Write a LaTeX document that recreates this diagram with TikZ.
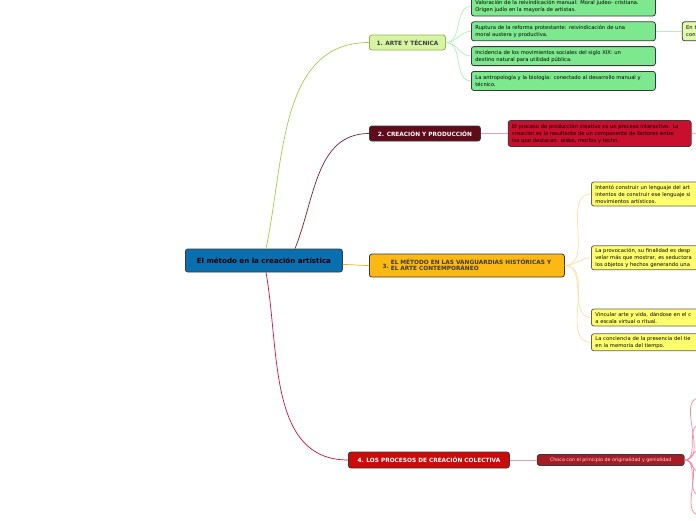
\documentclass[tikz,border=0pt]{standalone}
\usepackage{fontspec}
\setmainfont{DejaVu Sans}
\usetikzlibrary{positioning}
\definecolor{Ink}{HTML}{3A3A3A}
\definecolor{RootBlue}{HTML}{0A6FAE}
\definecolor{ArtFill}{HTML}{D6F5A4}
\definecolor{ArtLine}{HTML}{A9C94C}
\definecolor{LeafGreen}{HTML}{7DE88E}
\definecolor{LeafGreenLine}{HTML}{B6EEC2}
\definecolor{PaleLime}{HTML}{E2F9AE}
\definecolor{Maroon}{HTML}{5E0B1B}
\definecolor{Crimson}{HTML}{C8102E}
\definecolor{PinkLine}{HTML}{D9A2AC}
\definecolor{Amber}{HTML}{FDB913}
\definecolor{AmberLine}{HTML}{F5B21A}
\definecolor{LeafYellow}{HTML}{FFFF6E}
\definecolor{YellowLine}{HTML}{FCE0A2}
\definecolor{Red}{HTML}{CC0A0A}
\definecolor{RedLine}{HTML}{C8143C}
\definecolor{DarkRed}{HTML}{A51C24}
\definecolor{FanLine}{HTML}{F08CA0}
\tikzset{
  base/.style={rounded corners=2.5pt,line width=0.8pt,draw=Ink,inner xsep=4pt,
    inner ysep=0pt,align=left,anchor=west},
  rootbox/.style={base,fill=RootBlue,minimum width=157pt,minimum height=23pt,
    align=center,font=\fontsize{7.1}{8}\selectfont\bfseries},
  topic/.style={base,minimum height=15pt,align=center,
    font=\fontsize{5.8}{7}\selectfont\bfseries},
  leaf/.style={base,minimum height=19pt,text=black,font=\fontsize{5.2}{7}\selectfont},
  leafgreen/.style={leaf,fill=LeafGreen,text width=176pt},
  leafyellow/.style={leaf,fill=LeafYellow,text width=192pt,draw=Ink!80},
  edge/.style={line width=0.7pt}
}
\begin{document}
\begin{tikzpicture}[x=1pt,y=-1pt]
  \useasboundingbox (0,0) rectangle (696,520);
  \clip (0,0) rectangle (696,520);
  \fill[white] (0,0) rectangle (696,520);

  % centre
  \node[rootbox] (root) at (185,260.5) {El método en la creación artística};

  % 1
  \node[topic,fill=ArtFill,draw=ArtLine!90!black,minimum width=76pt,text=Ink] (arte) at (369,42.5) {1. ARTE Y TÉCNICA};
  \node[leafgreen] (val) at (471,6.5) {Valoración de la reivindicación manual: Moral judeo- cristiana.\\Origen judío en la mayoría de artistas.};
  \node[leafgreen,below=5pt of val] (rup) {Ruptura de la reforma protestante: reivindicación de una\\moral austera y productiva.};
  \node[leafgreen,below=5pt of rup] (inc) {Incidencia de los movimientos sociales del siglo XIX: un\\destino natural para utilidad pública.};
  \node[leafgreen,below=5pt of inc] (ant) {La antropología y la biología: conectado al desarrollo manual y\\técnico.};
  \node[leaf,fill=PaleLime,text width=52pt,right=26pt of rup] (ent) {En t\\con};

  % 2
  \node[topic,fill=Maroon,text=white,minimum width=111pt] (crea) at (369,133.5) {2. CREACIÓN Y PRODUCCIÓN};
  \node[leaf,fill=Crimson,text width=175pt,minimum height=26pt,right=27pt of crea] (proc)
    {El proceso de producción creativo es un proceso interactivo. La\\creación es la resultante de un componente de factores entre\\los que destacan: eidos, morfos y techn.};
  \coordinate (procout) at (700,134);

  % 3
  \node[topic,fill=Amber,text=Ink,minimum width=195pt,minimum height=23pt,align=left] (vang) at (369,265.5)
    {\raisebox{-1.5pt}{3.}\ \begin{tabular}{@{}l@{}}EL MÉTODO EN LAS VANGUARDIAS HISTÓRICAS Y\\[-1.5pt]EL ARTE CONTEMPORÁNEO\end{tabular}};
  \node[leafyellow,minimum height=24pt] (int) at (591,194) {Intentó construir un lenguaje del art\\intentos de construir ese lenguaje si\\movimientos artísticos.};
  \node[leafyellow,minimum height=24pt,below=39pt of int.south west,anchor=north west] (prov) {La provocación, su finalidad es desp\\velar más que mostrar, es seductora\\los objetos y hechos generando una};
  \node[leafyellow,minimum height=17pt] (vin) at (591,317.5) {Vincular arte y vida, dándose en el c\\a escala virtual o ritual.};
  \node[leafyellow,minimum height=17pt,below=7pt of vin.south west,anchor=north west] (conc) {La conciencia de la presencia del tie\\en la memoria del tiempo.};

  % 4
  \node[topic,fill=Red,text=white,minimum width=161pt,minimum height=16pt] (cole) at (348,460) {4. LOS PROCESOS DE CREACIÓN COLECTIVA};
  \node[base,fill=DarkRed,text=red!15,minimum width=147pt,minimum height=11pt,align=center,
    font=\fontsize{4.8}{6}\selectfont,right=27pt of cole] (choca) {Choca con el principio de originalidad y genialidad};
  \foreach \y [count=\i] in {398,425,450,472,495,515} {
    \coordinate (fan\i) at (700,\y);
  }

  % connectors
  \draw[edge,ArtLine] ([xshift=81pt]root.north west) to[out=78,in=180] (arte.west);
  \draw[edge,Maroon!90] ([xshift=110pt]root.north west) to[out=68,in=180] (crea.west);
  \draw[edge,AmberLine] ([yshift=-4pt]root.east) to[out=0,in=180] (vang.west);
  \draw[edge,RedLine] ([xshift=81pt]root.south west) to[out=-80,in=180] (cole.west);
  \foreach \n in {val,rup,inc,ant}
    \draw[edge,LeafGreenLine] (arte.east) to[out=0,in=180] (\n.west);
  \draw[edge,LeafGreenLine] (rup.east) -- (ent.west);
  \draw[edge,PinkLine] (crea.east) -- (proc.west);
  \draw[edge,PinkLine] (proc.east) -- (procout);
  \foreach \n in {int,prov,vin,conc}
    \draw[edge,YellowLine] (vang.east) to[out=0,in=180] (\n.west);
  \draw[edge,PinkLine] (cole.east) -- (choca.west);
  \foreach \i in {1,...,6}
    \draw[edge,FanLine] (choca.east) to[out=0,in=180] (fan\i);
\end{tikzpicture}
\end{document}
